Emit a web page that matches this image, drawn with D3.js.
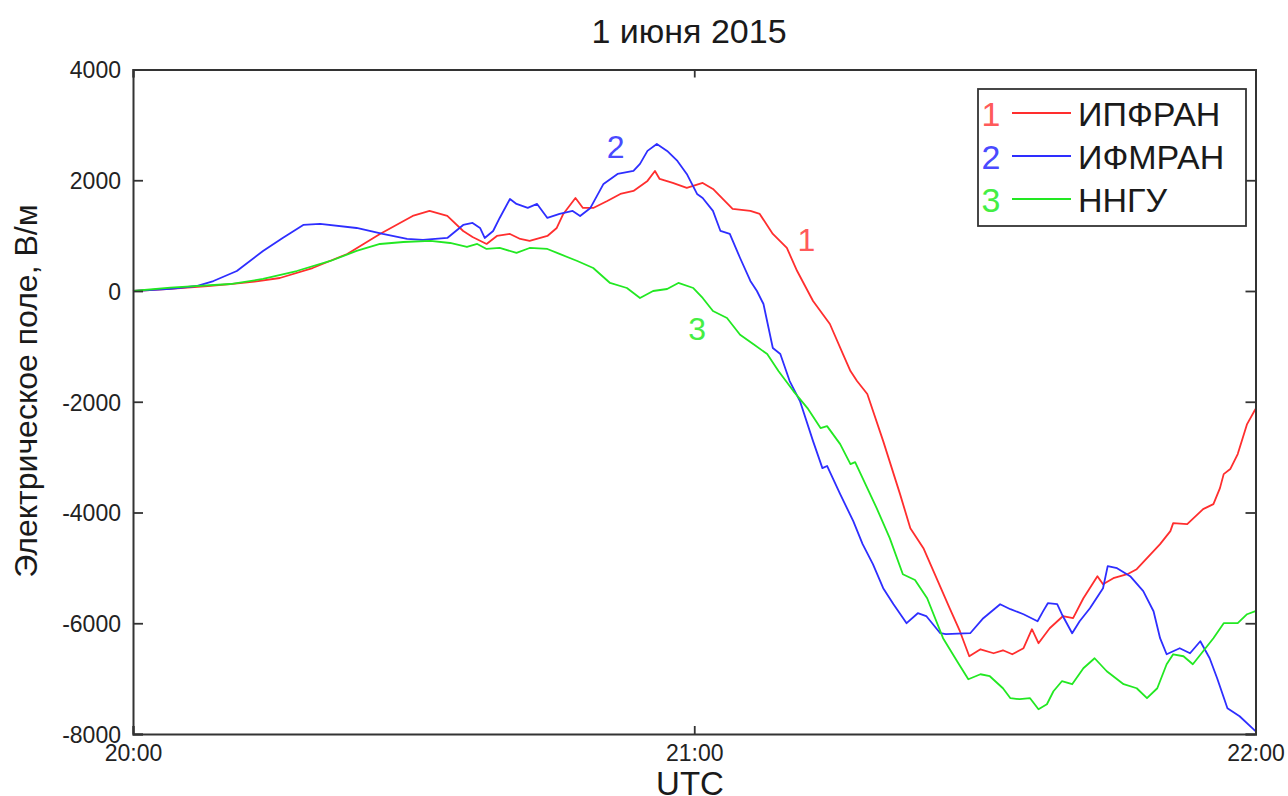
<!DOCTYPE html>
<html>
<head>
<meta charset="utf-8">
<script src="https://cdn.jsdelivr.net/npm/d3@7"></script>
<style>
  html, body { margin: 0; padding: 0; background: #fff; }
  svg { display: block; font-family: "Liberation Sans", Arial, sans-serif; }
</style>
</head>
<body>
<svg id="chart" width="1288" height="796"></svg>
<script>
// Time in minutes after 20:00 UTC, field in V/m
const ipfranT = [0,4,8,10.4,13,15.7,19.2,22.9,26.4,29.9,31.7,33.6,35.3,36.3,37.8,38.9,40.3,41.4,42.4,44.3,45.3,46,47.3,48.1,49.2,50.7,52.1,53.5,55,55.8,56.3,57.7,59.2,60.9,62,64.1,66,67,68.4,69.9,71,72.7,74.5,75.9,76.7,77.4,78.5,80.2,82,83.1,84.5,85.9,87.3,88.4,89.4,90.6,92,93,94,95.2,96.1,96.8,98,99.4,100.5,101.6,103.1,103.7,104.8,106.3,107.3,108.8,109.8,110.9,111.2,112.7,114.4,115.5,116.2,116.6,117.3,118.1,119.1,120];
const ipfranV = [0,40,90,126,170,235,415,668,1030,1355,1445,1355,1084,976,850,994,1030,940,904,994,1138,1391,1680,1500,1500,1626,1753,1807,1988,2168,2024,1952,1861,1952,1843,1482,1446,1391,1030,777,361,-180,-596,-1138,-1446,-1626,-1861,-2711,-3668,-4283,-4644,-5186,-5728,-6144,-6596,-6470,-6542,-6488,-6560,-6451,-6108,-6361,-6090,-5873,-5909,-5548,-5150,-5295,-5186,-5114,-5024,-4752,-4572,-4337,-4192,-4210,-3939,-3849,-3560,-3307,-3216,-2945,-2403,-2132];

const ifmranT = [0,4,6.8,8.6,11.1,13.9,16,18.2,20,23.9,26.7,29.3,31,33.6,35.3,36.3,37.1,37.6,38.5,39.2,40.3,41,42.2,43.2,44.3,45.6,47,47.8,48.9,50.3,51.8,53.5,54.2,55,56,57.1,58.2,59.2,60.3,60.9,62,62.8,63.8,64.9,66,66.7,67.4,68.4,69.2,70.2,71.3,72.7,73.7,74.2,75.6,77,78,79.1,80.2,81.3,82.7,83.9,84.8,86.3,86.9,89.5,90.9,92.7,93.8,95.2,96.7,97.3,97.8,98.8,99.3,100.4,101.2,102.3,103.7,104.2,105.2,106.6,108,109.1,109.8,110.5,111.9,113,114.1,115.1,115.9,117,118.3,119.8,120];
const ifmranV = [0,40,90,180,361,723,958,1193,1211,1138,1030,940,922,958,1193,1229,1138,958,1084,1319,1662,1572,1500,1572,1319,1391,1446,1355,1500,1934,2114,2168,2295,2530,2656,2530,2349,2114,1753,1680,1446,1084,1030,596,181,0,-235,-1030,-1138,-1626,-1988,-2711,-3199,-3160,-3668,-4156,-4572,-4933,-5367,-5656,-5999,-5819,-5870,-6180,-6198,-6180,-5909,-5656,-5746,-5837,-5963,-5782,-5638,-5656,-5837,-6180,-5963,-5728,-5367,-4969,-5006,-5150,-5421,-5783,-6270,-6560,-6451,-6542,-6325,-6632,-6993,-7535,-7680,-7915,-7950];

const nnguT = [0,4,10.4,13.9,17.5,21.1,23.9,26.4,28.9,31.8,33.9,35.7,36.8,37.8,39.2,41,42.4,44.3,45.6,47.5,49.2,51,52.8,54.2,55.6,57.1,58.3,59.9,60.9,62,63.5,64.9,66.3,67.8,69,70.6,72.1,73.5,74.2,75.6,76.7,77.2,78.5,79.5,80.9,82.3,83.6,84.9,86.6,88.1,89.3,90.6,91.6,93,93.8,94.8,95.9,96.8,97.7,98.4,99.3,100.4,101.6,102.8,104.1,105.9,107.3,108.4,109.5,110.5,111.2,112.3,113.3,114.4,115.5,116.6,118.1,119.1,120];
const nnguV = [0,60,126,217,361,542,723,849,885,904,867,795,849,759,777,687,777,759,669,542,416,145,54,-126,0,36,145,54,-126,-361,-488,-790,-958,-1138,-1446,-1807,-2114,-2476,-2440,-2765,-3126,-3090,-3560,-3921,-4463,-5114,-5220,-5548,-6270,-6686,-7011,-6921,-6957,-7174,-7354,-7372,-7354,-7553,-7463,-7228,-7047,-7101,-6812,-6632,-6867,-7101,-7174,-7354,-7174,-6740,-6560,-6596,-6740,-6506,-6270,-5999,-5999,-5837,-5782];

const seriesNames = ["ИПФРАН", "ИФМРАН", "ННГУ"];
const seriesNums = ["1", "2", "3"];
const seriesColors = ["#ff2e2e", "#2e2eff", "#22e822"];
const labelColors = ["#ff5a5a", "#4a4aff", "#44ee44"];

const xTickValues = [0, 60, 120];
const xTickLabels = ["20:00", "21:00", "22:00"];
const yTickValues = [4000, 2000, 0, -2000, -4000, -6000, -8000];

const titleText = "1 июня 2015";
const xTitle = "UTC";
const yTitle = "Электрическое поле, В/м";

const svg = d3.select("#chart");
const plotLeft = 133, plotRight = 1255.5, plotTop = 69.5, plotBottom = 734;

const x = d3.scaleLinear().domain([0, 120]).range([plotLeft, plotRight]);
const y = d3.scaleLinear().domain([-8000, 4000]).range([plotBottom, plotTop]);

const axisColor = "#333";
const textColor = "#1a1a1a";
const series = [
  { t: ipfranT, v: ipfranV },
  { t: ifmranT, v: ifmranV },
  { t: nnguT, v: nnguV }
];

// Data lines
const line = d3.line().x(d => x(d[0])).y(d => y(d[1]));
const plot = svg.append("g");
series.forEach((s, i) => {
  const pts = s.t.map((t, k) => [t, s.v[k]]);
  plot.append("path")
    .datum(pts)
    .attr("fill", "none")
    .attr("stroke", seriesColors[i])
    .attr("stroke-width", 1.8)
    .attr("stroke-linejoin", "round")
    .attr("d", line);
});

// Axes: left/bottom with labels, top/right mirrored ticks only
const fmtX = (d) => xTickLabels[xTickValues.indexOf(d)];
const fmtY = (d) => String(d);  // plain hyphen for negatives
const gl = svg.append("g").attr("transform", `translate(${plotLeft},0)`)
  .call(d3.axisLeft(y).tickValues(yTickValues).tickSize(-10).tickPadding(12).tickFormat(fmtY));
const gr = svg.append("g").attr("transform", `translate(${plotRight},0)`)
  .call(d3.axisRight(y).tickValues(yTickValues).tickSize(-10).tickFormat(""));
const gb = svg.append("g").attr("transform", `translate(0,${plotBottom})`)
  .call(d3.axisBottom(x).tickValues(xTickValues).tickSize(-8).tickPadding(11).tickFormat(fmtX));
const gt = svg.append("g").attr("transform", `translate(0,${plotTop})`)
  .call(d3.axisTop(x).tickValues(xTickValues).tickSize(-8).tickFormat(""));

[gl, gr, gb, gt].forEach(g => {
  g.select(".domain").attr("stroke", axisColor).attr("stroke-width", 2);
  g.selectAll(".tick line").attr("stroke", axisColor).attr("stroke-width", 1.8);
  g.selectAll(".tick text").attr("fill", "#222").style("font-size", "23px")
    .style("font-family", "'Liberation Sans', Arial, sans-serif");
});
gl.selectAll(".tick text").attr("dy", "0.36em");
gb.selectAll(".tick text").attr("dy", "0.70em");

// Titles
svg.append("text").attr("x", 689).attr("y", 43).attr("text-anchor", "middle")
  .style("font-size", "34px").attr("fill", textColor).text(titleText);
svg.append("text").attr("x", 690).attr("y", 795).attr("text-anchor", "middle")
  .style("font-size", "33px").attr("fill", textColor).text(xTitle);
svg.append("text")
  .attr("transform", `translate(37,391) rotate(-90)`)
  .attr("text-anchor", "middle")
  .style("font-size", "32px").attr("fill", textColor).text(yTitle);

// Curve numbers placed beside each trace
const curveLabels = [
  { t: 72.0, v: 720, i: 0 },
  { t: 51.6, v: 2400, i: 1 },
  { t: 60.3, v: -885, i: 2 }
];
curveLabels.forEach(c => {
  svg.append("text").attr("x", x(c.t)).attr("y", y(c.v))
    .attr("text-anchor", "middle").style("font-size", "32px")
    .attr("fill", labelColors[c.i]).text(seriesNums[c.i]);
});

// Legend
const lg = svg.append("g").attr("transform", "translate(978,89)");
lg.append("rect").attr("width", 268).attr("height", 137)
  .attr("fill", "#fff").attr("stroke", axisColor).attr("stroke-width", 1.8);
seriesNames.forEach((name, i) => {
  const cy = 24 + i * 43;
  lg.append("text").attr("x", 13).attr("y", cy + 12.5).attr("text-anchor", "middle")
    .style("font-size", "34px").attr("fill", labelColors[i]).text(seriesNums[i]);
  lg.append("line").attr("x1", 34).attr("x2", 93).attr("y1", cy).attr("y2", cy)
    .attr("stroke", seriesColors[i]).attr("stroke-width", 1.8);
  lg.append("text").attr("x", 100).attr("y", cy + 12.5)
    .style("font-size", "34px").attr("fill", textColor).text(name);
});
</script>
</body>
</html>
